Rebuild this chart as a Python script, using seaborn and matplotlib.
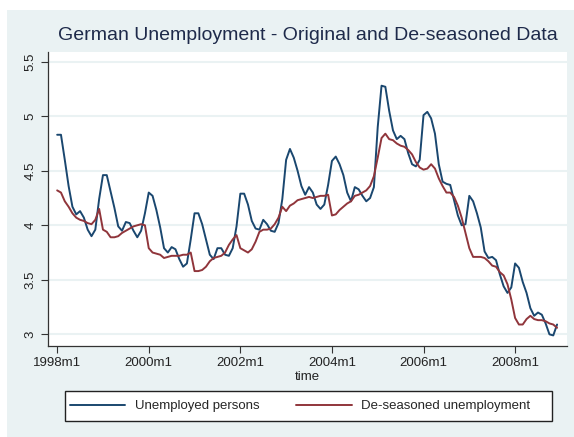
import matplotlib
matplotlib.use('Agg')
import matplotlib.pyplot as plt
import matplotlib.patches as mpatches
import numpy as np
import pandas as pd
import seaborn as sns

# monthly values, 1998m1 - 2008m12 (millions)
unemployed = [
    4.83, 4.83, 4.60, 4.36, 4.17, 4.10, 4.13, 4.07, 3.96, 3.90, 3.96, 4.24,  # 1998
    4.46, 4.46, 4.31, 4.16, 3.99, 3.95, 4.03, 4.02, 3.95, 3.89, 3.95, 4.11,  # 1999
    4.30, 4.27, 4.14, 3.98, 3.79, 3.75, 3.80, 3.78, 3.69, 3.62, 3.65, 3.87,  # 2000
    4.11, 4.11, 4.01, 3.87, 3.73, 3.69, 3.79, 3.79, 3.73, 3.72, 3.79, 3.99,  # 2001
    4.29, 4.29, 4.19, 4.04, 3.97, 3.96, 4.05, 4.01, 3.95, 3.94, 4.02, 4.24,  # 2002
    4.60, 4.70, 4.62, 4.50, 4.36, 4.28, 4.35, 4.30, 4.19, 4.15, 4.19, 4.37,  # 2003
    4.59, 4.63, 4.56, 4.46, 4.30, 4.22, 4.35, 4.33, 4.27, 4.22, 4.25, 4.35,  # 2004
    4.90, 5.28, 5.27, 5.05, 4.87, 4.79, 4.82, 4.79, 4.66, 4.56, 4.54, 4.60,  # 2005
    5.01, 5.04, 4.98, 4.84, 4.56, 4.40, 4.38, 4.37, 4.23, 4.09, 4.00, 4.01,  # 2006
    4.27, 4.22, 4.11, 3.98, 3.76, 3.70, 3.71, 3.68, 3.55, 3.44, 3.38, 3.43,  # 2007
    3.65, 3.61, 3.48, 3.38, 3.24, 3.17, 3.20, 3.18, 3.10, 3.00, 2.99, 3.09,  # 2008
]
deseasoned = [
    4.32, 4.30, 4.22, 4.17, 4.11, 4.07, 4.05, 4.04, 4.02, 4.01, 4.05, 4.15,
    3.96, 3.94, 3.89, 3.89, 3.90, 3.93, 3.95, 3.97, 3.99, 4.00, 4.01, 4.00,
    3.79, 3.75, 3.74, 3.73, 3.70, 3.71, 3.72, 3.72, 3.72, 3.73, 3.73, 3.75,
    3.58, 3.58, 3.59, 3.62, 3.67, 3.70, 3.71, 3.72, 3.75, 3.82, 3.87, 3.91,
    3.79, 3.77, 3.75, 3.78, 3.85, 3.94, 3.96, 3.96, 3.97, 4.01, 4.07, 4.17,
    4.13, 4.18, 4.20, 4.23, 4.24, 4.25, 4.26, 4.25, 4.26, 4.27, 4.27, 4.28,
    4.09, 4.10, 4.14, 4.17, 4.20, 4.22, 4.27, 4.28, 4.30, 4.32, 4.36, 4.45,
    4.62, 4.80, 4.84, 4.79, 4.78, 4.75, 4.73, 4.72, 4.69, 4.65, 4.58, 4.53,
    4.51, 4.52, 4.56, 4.52, 4.43, 4.36, 4.30, 4.30, 4.26, 4.18, 4.07, 3.93,
    3.79, 3.71, 3.71, 3.71, 3.70, 3.67, 3.63, 3.62, 3.57, 3.54, 3.46, 3.32,
    3.15, 3.09, 3.09, 3.14, 3.17, 3.14, 3.13, 3.13, 3.12, 3.10, 3.09, 3.06,
]
series_names = ['Unemployed persons', 'De-seasoned unemployment']
xtick_months = [0, 24, 48, 72, 96, 120]
xtick_labels = ['1998m1', '2000m1', '2002m1', '2004m1', '2006m1', '2008m1']
ytick_values = [3, 3.5, 4, 4.5, 5, 5.5]
ytick_labels = ['3', '3.5', '4', '4.5', '5', '5.5']

months = np.arange(len(unemployed))
df = pd.concat([
    pd.DataFrame({'time': months, 'value': unemployed, 'series': series_names[0]}),
    pd.DataFrame({'time': months, 'value': deseasoned, 'series': series_names[1]}),
])

sns.set_style('white')
plt.rcParams['font.family'] = ['Liberation Sans', 'DejaVu Sans']

bg = '#EAF2F3'
fig = plt.figure(figsize=(5.74, 4.37), dpi=100)
fig.patch.set_facecolor('white')
# stata style graph region (leaves a thin white margin top/left)
fig.patches.append(mpatches.Rectangle((7 / 574, 0), 1, 1 - 10 / 437,
                                      transform=fig.transFigure, facecolor=bg,
                                      edgecolor='none', zorder=-10))

ax = fig.add_axes([48 / 574, 1 - 346 / 437, (567 - 48) / 574, (346 - 52) / 437])
ax.set_facecolor('white')

sns.lineplot(data=df, x='time', y='value', hue='series',
             palette=['#1A476F', '#90353B'], linewidth=1.4, ax=ax)

ax.set_xlim(-2.4, 133.6)
ax.set_ylim(2.893, 5.589)
ax.set_xticks(xtick_months)
ax.set_xticklabels(xtick_labels, fontsize=9.5)
ax.set_yticks(ytick_values)
ax.set_yticklabels(ytick_labels, fontsize=9.5, rotation=90, va='center')
ax.grid(axis='y', color=bg, linewidth=1.5)
ax.set_axisbelow(True)
ax.tick_params(axis='both', direction='out', length=5, width=0.8,
               color='#333333', labelcolor='#222222', pad=3,
               bottom=True, left=True)
for side in ['top', 'right']:
    ax.spines[side].set_visible(False)
for side in ['left', 'bottom']:
    ax.spines[side].set_color('#333333')
    ax.spines[side].set_linewidth(0.9)
ax.set_xlabel('time', fontsize=9.5, color='#222222', labelpad=1)
ax.set_ylabel('')

fig.text((48 + 567) / 2 / 574, 1 - 35 / 437,
         'German Unemployment - Original and De-seasoned Data',
         ha='center', va='center', fontsize=14, color='#1E2A4A')

# legend box drawn separately so the entries can sit where stata puts them
fig.patches.append(mpatches.Rectangle((65 / 574, 1 - 421 / 437), (552 - 65) / 574, 30 / 437,
                                      transform=fig.transFigure, facecolor='white',
                                      edgecolor='#222222', linewidth=1.0, zorder=1))
handles, labels = ax.get_legend_handles_labels()
ax.get_legend().remove()
leg = fig.legend(handles, labels, ncol=2, loc='center left',
                 bbox_to_anchor=(70 / 574, 1 - 406 / 437),
                 fontsize=9.5, handlelength=4.2, handletextpad=0.7,
                 columnspacing=2.8, frameon=False, borderpad=0, borderaxespad=0)
leg.set_zorder(2)

fig.savefig('out.png', dpi=100, facecolor=fig.get_facecolor())
